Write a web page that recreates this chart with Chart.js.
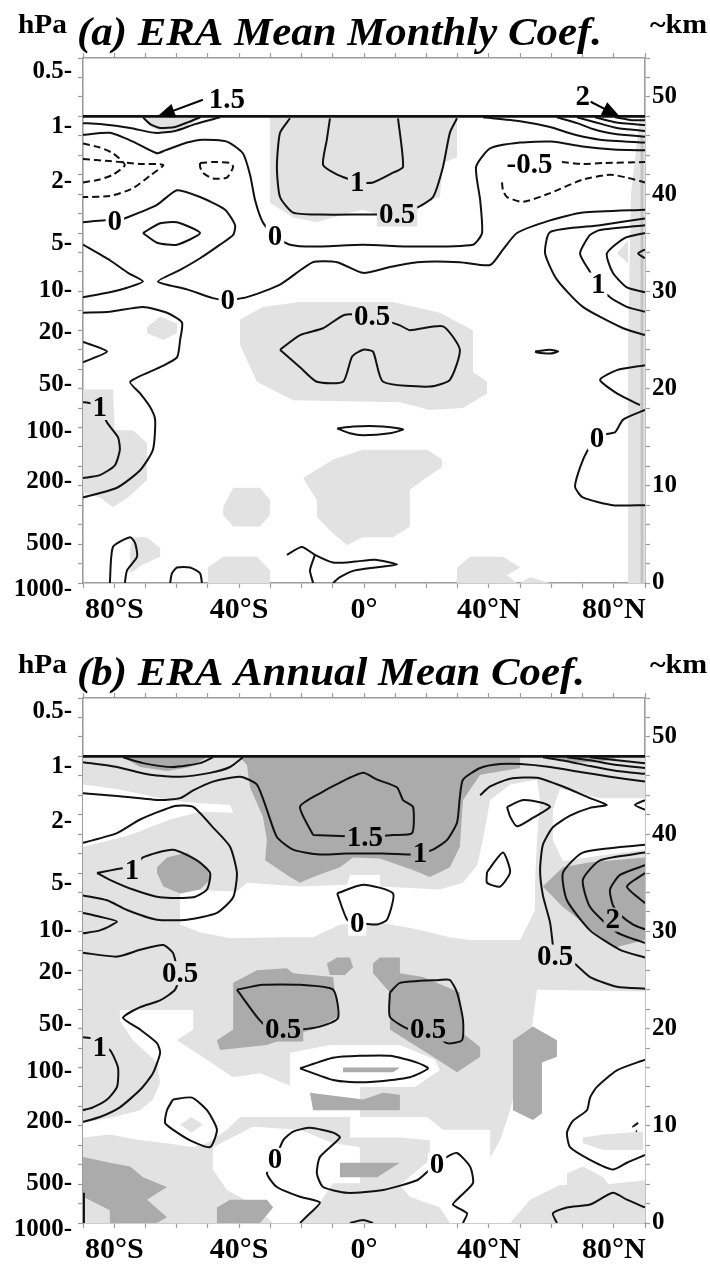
<!DOCTYPE html>
<html>
<head>
<meta charset="utf-8">
<script src="https://cdn.jsdelivr.net/npm/chart.js@4.4.1/dist/chart.umd.min.js"></script>
<style>
  body { margin: 0; background: #fff; }
  canvas { display: block; }
</style>
</head>
<body>
<canvas id="chartA" width="710" height="640"></canvas>
<canvas id="chartB" width="710" height="625"></canvas>
<script>
// axes
const kmMax = 54;
const topKm = 48;
const latTickValues = [-80, -40, 0, 40, 80];
const latTickText = ['80\u00B0S', '40\u00B0S', '0\u00B0', '40\u00B0N', '80\u00B0N'];
const pressureText = ['0.5', '1', '2', '5', '10', '20', '50', '100', '200', '500', '1000'];
const pressureKm = [52.6, 46.9, 41.3, 34.9, 30.1, 25.8, 20.4, 15.6, 10.4, 4.1, -0.7];
const kmTicks = [0, 10, 20, 30, 40, 50];
const titles = ['(a) ERA Mean Monthly Coef.', '(b) ERA Annual Mean Coef.'];

// (a) contours, [lat, km]
const aSolid = [
  [[-90,47.3],[-84.6,47.2],[-74.9,46.8],[-66.9,46.3],[-60.5,46.5],[-54.1,47.2],[-46.1,47.9]],
  [[-70.8,47.9],[-68.5,47.2],[-65.3,46.8],[-60.5,46.9],[-56.3,47.4],[-52.5,47.9]],
  [[-90,46.1],[-81.4,46.3],[-74,45.4],[-66.3,44.2],[-63.7,44.5],[-56.7,45.3],[-51.6,45.6],[-43.9,45.4],[-38.8,44.2],[-36.5,42],[-34.9,39.4],[-32.4,37.1],[-28.5,35.6],[-23.7,34.8],[-16.3,34.6],[-0.3,34.8],[15.7,34.6],[34.9,34.8],[37.8,36],[37.2,39.4],[35.9,42.8],[40.4,44.7],[50,45.3],[60,45.4],[70,44.9],[80,44.6],[90,44.5]],
  [[38.1,47.9],[50,47.5],[59.6,46.9],[67.6,46.1],[75.6,45.6],[90,45.3]],
  [[61.8,47.9],[68.2,47.3],[73.3,46.7],[80,46.2],[90,45.9]],
  [[68.2,47.9],[74,47.4],[81,46.8],[90,46.5]],
  [[74,47.9],[80.4,47.4],[90,47.1]],
  [[80.4,47.9],[85.8,47.6],[90,47.6]],
  [[-23.7,47.8],[-26.9,46.3],[-27.9,42.8],[-26.9,39.7],[-22.7,38.1],[-14.1,37.9],[-0.3,37.9],[4.2,37.9],[10.6,37.9],[17,38.6],[22.1,39.7],[25.3,42.8],[27.5,46.3],[29.8,47.8]],
  [[-10.9,47.8],[-11.9,45.6],[-13.1,43],[-8.6,42],[-4.5,41.5],[-2.2,41.2],[2.9,41.2],[9.3,42.2],[12.5,42.8],[10.9,47.8]],
  [[-70.8,36],[-65.3,37],[-59.9,37.1],[-52.5,36],[-59.9,34.8],[-66.3,35],[-70.8,36]],
  [[-90,37.1],[-83,37.3],[-79.8,37.2],[-75.9,37.6],[-66.3,38.9],[-59.9,40.4],[-52.5,39.7],[-44.5,38.4],[-41.3,36.8],[-41.9,35.8],[-46.1,34.8],[-52.5,33.4],[-58.9,32.2],[-66,31],[-56.7,30.2],[-48.4,29.3],[-43.6,29.1],[-37.5,29.4],[-26.9,30.7],[-16.3,33],[-8.6,33],[-0.3,31.9],[8.3,32.5],[17,33],[30.7,33],[40.4,32.7],[44.5,34.3],[49,36],[59.6,37.3],[70.1,38.1],[90,38.4]],
  [[-90,34.8],[-81.4,33.2],[-75.6,31.9],[-70.8,31],[-75.6,30.4],[-81.4,29.9],[-90,29.4]],
  [[-90,27.8],[-81.4,27.9],[-70.8,28.4],[-63.1,27.8],[-58.3,26.8],[-58.9,25],[-59.9,23.2],[-65.3,22.2],[-74.9,20.7],[-71.7,19.5],[-68.5,18.1],[-66.9,16.8],[-67.6,13.7],[-71.7,11.6],[-79.1,9.8],[-90,8.8]],
  [[-90,24.8],[-82.3,23.8],[-90,22.7]],
  [[-90,18.6],[-87.8,18.5],[-84.6,18],[-82.3,16.5],[-78.8,15],[-78.2,13.7],[-79.8,12.1],[-84.6,11.1],[-90,10.8]],
  [[-26.9,24],[-20.5,25.5],[-13.1,26.2],[-6.1,27.6],[2.6,27.4],[11.5,26.5],[14.7,26],[25.3,26.4],[30.7,24],[27.5,20.9],[21.1,20.2],[6.1,20.7],[2.9,23.8],[-0.3,24],[-3.8,23.3],[-6.7,20.7],[-15.1,20.7],[-20.5,22.2],[-26.9,24]],
  [[-8.6,15.9],[-3.5,16.1],[6.1,16.1],[12.5,15.8],[8.3,15.4],[-0.3,15.2],[-4.5,15.4],[-8.6,15.9]],
  [[54.8,23.8],[59.6,24],[62.2,23.8],[59.6,23.6],[55.4,23.7],[54.8,23.8]],
  [[90,37.5],[75.6,36.8],[59.6,36.1],[58,33.9],[61.8,31.2],[70.1,28.4],[83,26.2],[90,25.5]],
  [[90,36.8],[75.6,36.3],[72.4,35.8],[69.2,33.9],[72.4,32],[75,30.7],[78.8,29.4],[84.2,28.4],[90,27.9]],
  [[90,36],[83.6,35.5],[77.8,33.9],[79.7,31.9],[84.2,30.4],[90,29.9]],
  [[90,34.3],[87.8,33.9],[90,33.4]],
  [[90,22.4],[81,21.9],[75.6,20.9],[81,19.5],[88.4,18.3]],
  [[90,17.8],[83,16.8],[80.4,15.5],[77.2,15.3],[74.6,14.9],[71.7,13.7],[69.2,11.9],[67.6,9.9],[70.1,8.8],[79.7,8],[90,8]],
  [[-81.4,0],[-80.4,3.7],[-74.9,4.7],[-73.3,4.1],[-72.7,2.7],[-75.9,1.3],[-76.6,0]],
  [[-62.1,0],[-61.5,1],[-59.9,1.6],[-55.7,1.6],[-52.5,1],[-51.9,0]],
  [[-24.7,2.9],[-19.9,3.7],[-15.7,2.9],[-9.9,2.1],[-2.9,2.2],[3.5,2.4],[10.6,1.9],[3.5,1.6],[-2.9,1.3],[-7.7,0.6],[-9.9,0]],
  [[-15.7,2.9],[-17.3,1.3],[-16.3,0]]
];
const aDashed = [
  [[-90,45.2],[-84.6,44.8],[-80.4,44.2],[-76.6,43],[-80.4,42],[-84.6,41.5],[-90,41.2]],
  [[-90,43.6],[-81.4,43.4],[-71.7,43.1],[-64.3,43],[-68.5,41.9],[-74,40.6],[-81.4,39.8],[-90,39.7]],
  [[-52.5,43.2],[-48.4,43.3],[-42.9,43.2],[-41.9,42.8],[-43.9,41.7],[-48.4,41.6],[-51.6,42.2],[-52.5,42.8],[-52.5,43.2]],
  [[63.4,43.3],[70.1,43.1],[76.6,43.2],[90,43.3]],
  [[44.2,41.2],[44.5,40.4],[45.8,39.7],[50.9,39.2],[59.6,40.1],[70.1,41.5],[78.8,42],[84.2,41.7],[90,41.2]]
];
const aLight = [
  [[-70.8,47.9],[-68.5,46.9],[-65.3,46.5],[-60.5,46.6],[-55.7,47.1],[-51.6,47.9]],
  [[-30.1,47.9],[-30.1,39.1],[-22.7,37.6],[-15.1,37.1],[-6.7,37.9],[-0.3,38.4],[4.2,37.9],[14.7,38.4],[24.3,39.7],[25.3,43.2],[29.8,43.8],[29.8,47.9]],
  [[81,33.9],[84.6,35.3],[84.6,32.9]],
  [[-69.5,26.3],[-65.3,27.4],[-59.9,26.7],[-59.9,25.7],[-64.3,25],[-69.5,25.7]],
  [[-39.7,27.1],[-32.4,28.4],[-20.5,28.9],[9.3,28.9],[24.3,27.8],[34.9,26],[34.9,21.7],[39.4,20.7],[39.4,19.5],[31.7,18],[21.1,17.8],[11.5,18.6],[-22.7,18.8],[-34.3,20.7],[-39.7,24.5]],
  [[-90,19.9],[-80.4,19.9],[-79.8,15.7],[-74,15.7],[-69.5,14.4],[-69.5,10.6],[-75.6,8.8],[-80.4,7.8],[-84.6,8.8],[-90,9.3]],
  [[-45.1,7.8],[-41.9,9.8],[-33.3,9.8],[-30.1,8.5],[-30.1,7],[-33.3,5.8],[-41.9,5.8],[-45.1,7]],
  [[-74,4.7],[-69.5,4.7],[-65.3,3.6],[-65.3,2.7],[-70.8,1.9],[-74.9,1],[-74.9,3.5]],
  [[-50,1.6],[-45.1,2.7],[-34.3,2.7],[-30.1,1.3],[-30.1,0],[-50,0]],
  [[-19.5,10.8],[-9.9,12.7],[-0.3,13.7],[20.2,13.7],[25,12.7],[25,11.9],[20.2,10.9],[14.7,9.6],[14.7,5.8],[9.3,4.7],[-0.3,4.7],[-5.4,3.9],[-9.9,5.1],[-15.1,6.8],[-15.1,8.5]],
  [[29.8,0],[29.8,1.6],[34,2.7],[44.5,2.7],[50,1.6],[45.8,0.8],[49,0]],
  [[50,0],[53.2,0.6],[59.6,0]],
  [[88.4,47.9],[85.5,40],[84.6,25],[84.6,0],[90,0],[90,47.9]]
];
const aStrip = [[[88.6,0],[89.5,0],[89.5,46],[88.6,46]]];
const aLabels = [
  [-43.9,49.7,'1.5',''],[70.1,50,'2',''],[53,43,'-0.5','w'],
  [-79.8,37.2,'0','w'],[-28.5,35.6,'0','w'],[-2.2,41.2,'1','l'],[10.6,37.9,'0.5','l'],
  [-43.6,29.1,'0','w'],[2.6,27.4,'0.5','l'],[75,30.7,'1','w'],[-84.6,18,'1','l'],[74.6,14.9,'0','w']
];
const aArrows = [
  [[-51.6,49.7],[-66.3,47.95]],
  [[72.6,49.5],[82,47.95]]
];

// (b) contours, [lat, km]
const bSolid = [
  [[-77.2,47.9],[-70.8,47.3],[-61.2,46.9],[-52.5,47.3],[-48.4,47.9]],
  [[-90,47.4],[-79.1,46.9],[-68.5,46.1],[-58.9,45.9],[-49.3,46.3],[-42.9,46.9],[-38.8,47.9]],
  [[-90,44.2],[-78.2,43.9],[-65.3,43.5],[-58.9,43.7],[-54.7,44.5],[-48.4,45.4],[-39.7,45.9],[-34.3,45.1],[-31.1,42.5],[-27.9,39.7],[-22.7,38.4],[-14.1,37.9],[-5.4,38],[6.1,38],[15.7,37.9],[17.9,38],[22.1,38.4],[26.6,39.4],[29.8,41.2],[30.7,43.8],[31.7,45.6],[37.2,46.8],[43.6,47.2],[50,47.2],[59.6,46.9],[69.2,46.4],[78.8,45.9],[90,45.4]],
  [[-16.3,39.9],[-20.5,42.8],[-14.1,44.2],[-7.7,45.3],[-0.3,46.3],[4.2,45.6],[10.6,44.8],[12.5,43.5],[15.7,42.8],[15.4,40.1],[9.3,39.9],[0.3,39.7],[-7.7,39.8],[-16.3,39.9]],
  [[-90,39.1],[-79.1,40.1],[-71.7,41.5],[-60.5,42.9],[-54.7,42.8],[-48.4,40.7],[-42.9,38.7],[-40.7,36],[-41.9,33.5],[-47.1,31.9],[-56.7,31.2],[-66.3,31.2],[-75.9,32.2],[-82.3,33.2],[-90,33.7]],
  [[-85.5,36],[-77.2,36.5],[-74.3,36.3],[-70.8,37.6],[-61.2,38.4],[-53.5,37.3],[-49.3,36],[-50.3,34.3],[-54.7,33.5],[-65.3,33.5],[-74,34.3],[-81.4,35.3],[-85.5,36]],
  [[-90,31.9],[-84.6,31.5],[-79.1,31],[-84.6,30.1],[-90,29.8]],
  [[37.2,44],[40.4,44.9],[46.8,45.7],[55.4,45.8],[63.7,44.9],[72.4,43.7],[77.8,43],[72.4,42.7],[66,41.9],[60.5,40.7],[57.3,38.9],[56.4,36.3],[57.3,33.7],[59.6,30.9],[60.5,28.6],[61.2,27.4],[66.9,26.8],[72.4,25.3],[81,24.3],[90,24.1]],
  [[90,43.5],[86.8,43],[90,42.5]],
  [[57.3,47.9],[65,47.5],[72.4,47],[81,46.5],[90,46.2]],
  [[65,47.9],[72.4,47.6],[81,47.1],[90,46.8]],
  [[72.4,47.9],[81,47.6],[90,47.3]],
  [[45.8,42.8],[50.9,43.5],[57.3,43.2],[59.6,42.8],[53.2,41.5],[49,40.8],[46.8,41.8],[45.8,42.8]],
  [[39.4,36.1],[44.5,38.1],[46.8,36.1],[43.6,34.6],[39.4,35],[39.4,36.1]],
  [[-8.6,33.9],[-0.3,34.8],[9.3,33.9],[7.4,31.2],[4.2,30.7],[-2.2,30.9],[-5.4,31.2],[-8.6,33.9]],
  [[90,36],[84.2,34.6],[90,32.9]],
  [[90,36.8],[82,35.8],[78.8,34.3],[79.7,32.7],[82,31.7],[86.2,30.7],[90,30.2]],
  [[90,38.1],[75.6,37.3],[70.1,35.3],[72.4,32.5],[81,29.9],[90,28.8]],
  [[90,38.9],[70.1,38.1],[63.7,36],[65,33.2],[72.4,30.1],[82,28.1],[90,27.3]],
  [[-90,27.8],[-79.1,27.4],[-71.7,28.1],[-64.3,28.6],[-61.2,27.8],[-59.9,26.3],[-58.9,25.7],[-60.5,24],[-65.3,22.9],[-71.7,22.2],[-77.2,21.1],[-71.7,19.9],[-66.3,18.5],[-65.3,17.5],[-67.6,15.4],[-71.7,13.7],[-78.2,11.9],[-84.6,10.9],[-90,10.4]],
  [[-90,19.1],[-87.1,19],[-84.6,18.1],[-81.4,17.8],[-78.8,16],[-79.1,14],[-82.3,12.7],[-86.8,11.9],[-90,11.6]],
  [[-61.2,12.7],[-55.1,12.9],[-50.3,11.6],[-47.1,9.6],[-49.3,7.8],[-55.7,8.5],[-61.2,9.6],[-63.7,10.3],[-63.1,11.6],[-61.2,12.7]],
  [[-40.7,24],[-32.4,24.5],[-20.5,24.5],[-9.9,24],[-8.3,21.1],[-14.1,20.2],[-20.5,19.9],[-25.9,19.9],[-31.1,20.2],[-34.3,21.2],[-40.7,24]],
  [[8.3,23.7],[8.3,21.2],[14.7,19.9],[20.5,19.9],[26.6,18.5],[31.4,18.8],[31.7,20.9],[29.8,23.7],[27.5,25],[24.3,25],[11.5,24.7],[8.3,23.7]],
  [[-20.5,15.9],[-9.9,17],[-1.3,17.2],[8.3,17.2],[17,16.5],[20.5,15.9],[14.7,15],[1.9,14.5],[-4.5,14.5],[-9.9,14.7],[-20.5,15.9]],
  [[-20.5,0],[-17.3,1],[-14.1,2.1],[-20.5,2.7],[-27.9,3.7],[-31.1,5.1],[-28.5,6.5],[-25.9,8.5],[-22.7,9.4],[-17.3,9.8],[-9.9,9.3],[-7.7,8.8],[-14.1,6.8],[-15.1,5.1],[-13.1,3.7],[-5.4,3.1],[6.1,3.4],[17,4.4],[21.1,5.5],[23.4,6],[26.6,6.8],[29.8,7.2],[34,5.8],[34.9,4.1],[30.7,2.7],[28.5,1.9],[33,1],[31.7,0]],
  [[90,16.8],[81,15.7],[74.6,14],[72.4,12.9],[71.4,11.6],[66.9,10.5],[65,9.3],[66,7.8],[72.4,6.5],[79.7,5.5],[84.2,6.2],[90,7]],
  [[61.8,0],[60.5,1],[65,1.6],[72.4,1.9],[79.7,3.1],[84.2,2.4],[90,1.6]],
  [[-89.7,3.1],[-89.7,0]],
  [[-4.5,0],[-0.3,0.3],[2.9,0]]
];
const bDashed = [
  [[87.8,10.3],[86.2,9.9],[87.4,9.4]]
];
const bBase = [[[-90,0],[90,0],[90,47.9],[-90,47.9]]];
const bWhite = [
  [[-90,45.1],[-78.2,44.6],[-65.3,43.7],[-57.3,43.3],[-42.9,43],[-41.9,42.2],[-52.5,42.3],[-62.1,41.5],[-74.9,39.9],[-84.6,39.1],[-90,38.7]],
  [[-58.9,34.3],[-40.7,34.1],[-37.5,35],[-20.5,34.6],[-5.4,34.8],[-4.5,35.8],[5.1,35.8],[5.1,34.6],[24.3,34.3],[31.7,35],[36.2,36.8],[38.1,39.4],[40.4,43.5],[46.8,45.1],[55.4,45.6],[56.4,43.5],[55.4,39.4],[54.8,35.3],[54.8,32.2],[50,29.1],[34,29.1],[27.5,29.4],[15.7,30.3],[5.1,30.9],[-7.7,30.7],[-16.3,29.4],[-26.9,29.4],[-42.9,29.3],[-52.5,29.9],[-58.9,30.7]],
  [[62.8,44.7],[75.6,43.7],[90,43.7],[90,38.4],[75.6,37.8],[63.7,37.2],[60.5,39.4],[60.5,42.5]],
  [[55.4,24],[90,23.8],[90,4.4],[75.6,3.9],[62.8,3.9],[53.2,2.4],[46.8,0],[34,0],[30.7,2.4],[37.2,4.9],[43.6,8.5],[46.8,11.6],[50,15.9],[53.2,18.8]],
  [[-78.2,21.9],[-54.7,21.9],[-54.7,19.9],[-59.9,18.8],[-50.3,16.8],[-41.9,15],[-33.3,15.4],[-22.7,14],[-1.3,14],[-1.3,10.9],[-20.5,10.9],[-39.7,10.9],[-43.9,9.6],[-50.3,8.2],[-54.7,7.8],[-63.1,8.2],[-71.7,8.5],[-81.4,9.1],[-90,8.8],[-90,10.3],[-81.4,10.8],[-71.7,11.6],[-67.6,12.7],[-65.3,14.4],[-66.3,16.5],[-74,18.8],[-78.2,20.8]],
  [[-23.7,17.5],[-10.9,18.3],[11.5,18.3],[22.7,16.8],[24.3,15.7],[16.3,14],[-23.7,14]],
  [[-48.4,7.8],[-35.6,9.9],[-20.5,9.6],[-9.9,8.2],[-1.3,7.8],[-1.3,4.1],[-9.9,4.1],[-14.1,2.1],[-20.5,0],[-29.1,0],[-36.5,2.1],[-43.9,3.4],[-48.4,5.5]],
  [[-4.5,10.9],[20.2,10.9],[25.3,9.6],[40.4,9.6],[40.4,0],[27.5,0],[24.3,1.6],[14.7,2.7],[11.5,3.9],[21.1,6.5],[21.1,8.5],[11.5,8.8],[-4.5,8.8]]
];
const bLight = [
  [[70.1,8.8],[76.6,9.1],[89.4,9.4],[89.4,7.5],[76.6,7.5],[70.1,8.2]],
  [[65,5.1],[70.1,5.8],[76.6,4.7],[78.8,3.7],[70.1,3.1],[65,3.7]],
  [[-58.9,10.1],[-55.3,10.9],[-51.6,10.1],[-55.3,9.3]]
];
const bDark = [
  [[-39.7,47.9],[50,47.9],[50,46.8],[37.2,46.1],[31.7,43.5],[30.7,38.7],[27.5,36.6],[21.1,35.6],[15.7,36.3],[5.1,37.5],[-3.5,37.6],[-7.7,36.6],[-16.3,35.6],[-20.5,35],[-23.7,35.6],[-31.7,37.3],[-31.1,39.4],[-32.4,41.8],[-36.5,44.8],[-37.5,47.1]],
  [[-77.2,47.9],[-50.3,47.9],[-55.7,46.9],[-63.1,46.5],[-71.7,46.9]],
  [[60.5,47.9],[82,47.9],[75.6,47.4],[66,47.4]],
  [[-66.3,36.6],[-63.1,37.6],[-56.7,38.1],[-50.3,36.6],[-49.3,35.3],[-52.5,34.3],[-58.9,33.9],[-64.3,34.6],[-66.3,36]],
  [[57.3,34.6],[63.7,36.6],[72.4,37.1],[90,37.6],[90,29.1],[81,28.4],[75.6,29.4],[70.1,30.9],[63.7,32.5]],
  [[-41.9,24.7],[-34.3,26],[-24.7,26.2],[-22.7,25.7],[-9.9,25.3],[-8.3,21.2],[-14.1,20.2],[-20.5,19.5],[-31.1,18.3],[-46.1,17.8],[-47.1,18.8],[-41.9,19.9],[-41.9,22.9]],
  [[-11.9,26.7],[-8.6,27.3],[-4.5,27.3],[-3.5,26.3],[-6.1,25.5],[-10.9,25.5]],
  [[2.9,26.7],[5.1,27.3],[11.5,27.3],[11.5,25.7],[18.9,25.3],[30.7,23.7],[31.7,19.5],[37.2,18.1],[37.2,17.1],[29.8,15.5],[22.1,17.1],[8.3,19.9],[8.3,23.7],[2.9,25.7]],
  [[47.7,18.8],[54.1,20.2],[61.8,18.8],[61.8,17.1],[57,16.5],[57,11.3],[54.1,10.6],[47.7,11.6],[47.7,15.7]],
  [[-6.7,16],[11.5,16],[9.3,15.5],[-6.7,15.5]],
  [[-17.3,13.4],[-0.3,12.7],[6.1,13.4],[11.5,13.2],[11.5,11.6],[-16.3,11.6]],
  [[-7.7,6.2],[11.5,6.2],[4.2,4.7],[-7.7,4.7]],
  [[-90,6.8],[-81.4,6.2],[-74.9,5.8],[-70.8,4.7],[-63.1,3.7],[-69.5,2.4],[-63.1,0.6],[-66.3,0],[-81.4,0],[-81.4,1.3],[-90,2.7]],
  [[-47.1,1.6],[-42.9,2.4],[-31.1,2.4],[-29.1,1.6],[-33.3,0],[-47.1,0]]
];
const bLabels = [
  [0.3,39.6,'1.5','d'],[17.9,38,'1','d'],[-74.3,36.3,'1','l'],[-2.2,30.8,'0','w'],
  [79.7,31.2,'2','d'],[61.2,27.4,'0.5','l'],[-58.9,25.7,'0.5','l'],[-25.9,19.9,'0.5','d'],
  [20.5,19.9,'0.5','d'],[-84.6,18.1,'1','l'],[-28.5,6.5,'0','w'],[23.4,6,'0','w']
];

const LIGHT = '#e2e2e2';
const DARK = '#ababab';
const FRAME = '#9c9c9c';
const SERIF = '"Liberation Serif", "Times New Roman", serif';
const bgColor = { w: '#ffffff', l: LIGHT, d: DARK };

function tenDegTicks(s) {
  const t = [];
  for (let v = -90; v <= 90; v += 10) t.push({ value: v });
  s.ticks = t;
}

function makePanel(id, o) {
  const datasets = [];
  const add = (pts, dash, w) => datasets.push({
    data: pts.map(p => ({ x: p[0], y: p[1] })),
    showLine: true,
    pointRadius: 0,
    borderColor: '#111',
    borderWidth: w || 2,
    borderDash: dash ? [7, 4] : [],
    tension: 0.2
  });
  o.solid.forEach(p => add(p, false));
  o.dashed.forEach(p => add(p, true));
  add([[-90, topKm], [90, topKm]], false, 2.6);

  const shade = {
    id: 'shade',
    beforeDatasetsDraw(chart) {
      const { ctx, chartArea: a } = chart;
      const x = chart.scales.x, y = chart.scales.y;
      ctx.save();
      ctx.beginPath();
      ctx.rect(a.left, a.top, a.right - a.left, a.bottom - a.top);
      ctx.clip();
      o.layers.forEach(([color, polys]) => {
        ctx.fillStyle = color;
        polys.forEach(poly => {
          ctx.beginPath();
          poly.forEach(([lat, km], i) => {
            const px = x.getPixelForValue(lat), py = y.getPixelForValue(km);
            if (i) ctx.lineTo(px, py); else ctx.moveTo(px, py);
          });
          ctx.closePath();
          ctx.fill();
        });
      });
      ctx.restore();
    }
  };

  const marks = {
    id: 'marks',
    afterDatasetsDraw(chart) {
      const ctx = chart.ctx;
      const x = chart.scales.x, y = chart.scales.y;
      ctx.save();
      // arrows
      ctx.strokeStyle = '#000';
      ctx.fillStyle = '#000';
      ctx.lineWidth = 2;
      o.arrows.forEach(([from, to]) => {
        const x0 = x.getPixelForValue(from[0]), y0 = y.getPixelForValue(from[1]);
        const x1 = x.getPixelForValue(to[0]), y1 = y.getPixelForValue(to[1]);
        const ang = Math.atan2(y1 - y0, x1 - x0);
        ctx.beginPath();
        ctx.moveTo(x0, y0);
        ctx.lineTo(x1 - 12 * Math.cos(ang), y1 - 12 * Math.sin(ang));
        ctx.stroke();
        ctx.beginPath();
        ctx.moveTo(x1, y1);
        ctx.lineTo(x1 - 18 * Math.cos(ang) + 7 * Math.sin(ang), y1 - 18 * Math.sin(ang) - 7 * Math.cos(ang));
        ctx.lineTo(x1 - 18 * Math.cos(ang) - 7 * Math.sin(ang), y1 - 18 * Math.sin(ang) + 7 * Math.cos(ang));
        ctx.closePath();
        ctx.fill();
      });
      // contour labels
      ctx.font = 'bold 29px ' + SERIF;
      ctx.textAlign = 'center';
      ctx.textBaseline = 'middle';
      o.labels.forEach(([lat, km, text, bg]) => {
        const px = x.getPixelForValue(lat), py = y.getPixelForValue(km);
        const w = ctx.measureText(text).width;
        if (bg) {
          ctx.fillStyle = bgColor[bg];
          ctx.fillRect(px - w / 2 - 2, py - 12, w + 4, 24);
        }
        ctx.fillStyle = '#000';
        ctx.fillText(text, px, py + 1);
      });
      ctx.restore();
    },
    afterDraw(chart) {
      const ctx = chart.ctx;
      const fit = (text, font, left, base, width) => {
        ctx.font = font;
        const w = ctx.measureText(text).width;
        ctx.save();
        ctx.translate(left, base);
        ctx.scale(width / w, 1);
        ctx.fillText(text, 0, 0);
        ctx.restore();
      };
      ctx.save();
      ctx.fillStyle = '#000';
      ctx.textAlign = 'left';
      ctx.textBaseline = 'alphabetic';
      fit('hPa', 'bold 28px ' + SERIF, 18, 33, 49);
      fit(o.title, 'italic bold 40px ' + SERIF, 77, 45, o.titleWidth);
      fit('~km', 'bold 28px ' + SERIF, 650, 33, 57);
      ctx.restore();
    }
  };

  const tickFont = { family: SERIF, weight: 'bold', size: 25 };
  return new Chart(document.getElementById(id), {
    type: 'scatter',
    data: { datasets },
    plugins: [shade, marks],
    options: {
      responsive: false,
      animation: false,
      devicePixelRatio: 1,
      events: [],
      layout: { padding: { top: 58, left: 0, right: 0, bottom: 0 } },
      plugins: { legend: { display: false }, tooltip: { enabled: false } },
      scales: {
        x: {
          type: 'linear', position: 'bottom', min: -90, max: 90,
          afterBuildTicks: tenDegTicks,
          afterFit: s => { s.height = o.xHeight; },
          ticks: {
            autoSkip: false, maxRotation: 0, padding: 4, color: '#000',
            font: { family: SERIF, weight: 'bold', size: 30 },
            callback: v => { const i = latTickValues.indexOf(v); return i < 0 ? '' : latTickText[i]; }
          },
          grid: { drawOnChartArea: false, drawTicks: true, tickLength: 5, color: FRAME, tickWidth: 1.2 },
          border: { color: FRAME, width: 1.6 }
        },
        xTop: {
          type: 'linear', position: 'top', min: -90, max: 90,
          afterBuildTicks: tenDegTicks,
          afterFit: s => { s.height = 0; },
          ticks: { display: false },
          grid: { drawOnChartArea: false, drawTicks: true, tickLength: 5, color: FRAME, tickWidth: 1.2 },
          border: { color: FRAME, width: 1.6 }
        },
        y: {
          type: 'linear', position: 'left', min: 0, max: kmMax,
          afterBuildTicks: s => {
            const t = [];
            for (let v = 0; v <= kmMax; v += 2) t.push({ value: v });
            pressureKm.forEach((v, i) => t.push({ value: v, p: pressureText[i] + '-' }));
            s.ticks = t;
          },
          afterFit: s => { s.width = 83; },
          ticks: {
            autoSkip: false, padding: 6, color: '#000', font: tickFont,
            callback: (v, i, t) => t[i].p || ''
          },
          grid: {
            drawOnChartArea: false, drawTicks: true, tickLength: 5, tickWidth: 1.2,
            tickColor: c => (c.tick && c.tick.p) ? 'rgba(0,0,0,0)' : FRAME
          },
          border: { color: FRAME, width: 1.6 }
        },
        y2: {
          type: 'linear', position: 'right', min: 0, max: kmMax,
          afterBuildTicks: s => {
            const t = [];
            for (let v = 0; v <= kmMax; v += 2) t.push({ value: v });
            s.ticks = t;
          },
          afterFit: s => { s.width = 65; },
          ticks: {
            autoSkip: false, padding: 2, color: '#000', font: tickFont,
            callback: v => kmTicks.includes(v) ? String(v) : ''
          },
          grid: { drawOnChartArea: false, drawTicks: true, tickLength: 5, color: FRAME, tickWidth: 1.2 },
          border: { color: FRAME, width: 1.6 }
        }
      }
    }
  });
}

makePanel('chartA', {
  title: titles[0], titleWidth: 525, xHeight: 57,
  solid: aSolid, dashed: aDashed, labels: aLabels, arrows: aArrows,
  layers: [[LIGHT, aLight], ['#c2c2c2', aStrip]]
});
makePanel('chartB', {
  title: titles[1], titleWidth: 508, xHeight: 42,
  solid: bSolid, dashed: bDashed, labels: bLabels, arrows: [],
  layers: [[LIGHT, bBase], ['#ffffff', bWhite], [LIGHT, bLight], [DARK, bDark]]
});
</script>
</body>
</html>
